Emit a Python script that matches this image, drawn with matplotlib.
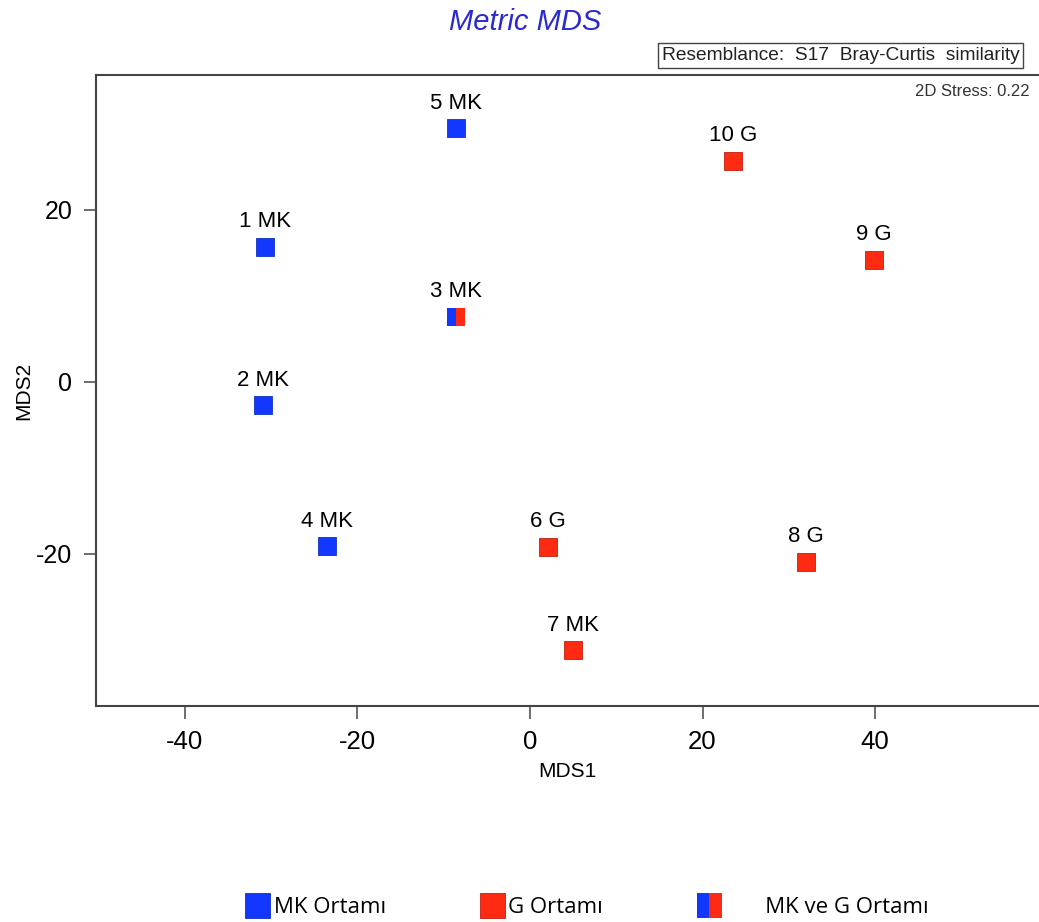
import matplotlib
matplotlib.use("Agg")
import matplotlib.pyplot as plt
from matplotlib.lines import Line2D
from matplotlib.legend_handler import HandlerTuple

# MDS coordinates
labels = ["1 MK", "2 MK", "3 MK", "4 MK", "5 MK", "6 G", "7 MK", "8 G", "9 G", "10 G"]
mds1 = [-30.7, -31.0, -8.6, -23.5, -8.6, 2.1, 5.0, 32.0, 39.9, 23.5]
mds2 = [15.7, -2.7, 7.6, -19.1, 29.5, -19.2, -31.2, -20.9, 14.2, 25.7]
group = ["MK", "MK", "both", "MK", "MK", "G", "G", "G", "G", "G"]

xticks = [-40, -20, 0, 20, 40]
yticks = [-20, 0, 20]

blue = "#1238ff"
red = "#ff2a12"
axfont = "Liberation Sans"

# half-square marker shapes
left_half = [(-1, -1), (0, -1), (0, 1), (-1, 1), (-1, -1)]
right_half = [(0, -1), (1, -1), (1, 1), (0, 1), (0, -1)]

fig = plt.figure(figsize=(10.39, 9.22), dpi=100)
ax = fig.add_axes([0.0924, 0.2343, 0.9076, 0.6844])

for x, y, lab, g in zip(mds1, mds2, labels, group):
    if g == "MK":
        ax.plot(x, y, "s", ms=13, mfc=blue, mec="#1030c0", mew=0.6)
    elif g == "G":
        ax.plot(x, y, "s", ms=13, mfc=red, mec="#c02010", mew=0.6)
    else:
        ax.plot(x, y, "s", ms=13, fillstyle="left", mfc=blue,
                markerfacecoloralt=red, mew=0)
    ax.annotate(lab, (x, y), xytext=(0, 14), textcoords="offset points",
                ha="center", va="baseline", fontsize=16, family=axfont)

ax.set_xlim(-50.3, 59.0)
ax.set_ylim(-37.7, 35.7)
ax.set_xticks(xticks)
ax.set_yticks(yticks)
ax.set_xticklabels([str(t) for t in xticks], family=axfont, fontsize=18.5)
ax.set_yticklabels([str(t) for t in yticks], family=axfont, fontsize=18)
ax.tick_params(length=9, width=1.2, color="#555555", pad=8)
ax.spines["right"].set_visible(False)
for s in ["left", "top", "bottom"]:
    ax.spines[s].set_color("#444444")
    ax.spines[s].set_linewidth(1.5)
ax.set_xlabel("MDS1", family=axfont, fontsize=15, labelpad=6)
ax.set_ylabel("MDS2", family=axfont, fontsize=15, labelpad=2)

ax.text(0.99, 0.985, "2D Stress: 0.22", transform=ax.transAxes, ha="right",
        va="top", fontsize=12, family=axfont, color="#333333")

fig.text(0.505, 0.976, "Metric MDS", ha="center", va="center", fontsize=21,
         style="italic", color="#2a2ad0", family=axfont)
fig.text(0.637, 0.9395, "Resemblance:  S17  Bray-Curtis  similarity",
         ha="left", va="center", fontsize=13.8, family=axfont, color="#222222",
         bbox=dict(boxstyle="square,pad=0.2", fc="white", ec="#444444", lw=1.0))

h_mk = Line2D([], [], ls="", marker="s", ms=18, mfc=blue, mec="#1030c0", mew=0.6)
h_g = Line2D([], [], ls="", marker="s", ms=18, mfc=red, mec="#c02010", mew=0.6)
h_l = Line2D([], [], ls="", marker=left_half, ms=18, mfc=blue, mew=0)
h_r = Line2D([], [], ls="", marker=right_half, ms=18, mfc=red, mew=0)

fig.legend([h_mk, h_g, (h_l, h_r)],
           ["MK Ortamı", "G Ortamı", "       MK ve G Ortamı"],
           handler_map={tuple: HandlerTuple(ndivide=1)},
           loc="center", bbox_to_anchor=(0.565, 0.016), ncol=3, frameon=False,
           prop={"family": "Open Sans", "size": 16}, handletextpad=0.2,
           columnspacing=4.2, handlelength=1.1)

fig.savefig("out.png", dpi=100)
